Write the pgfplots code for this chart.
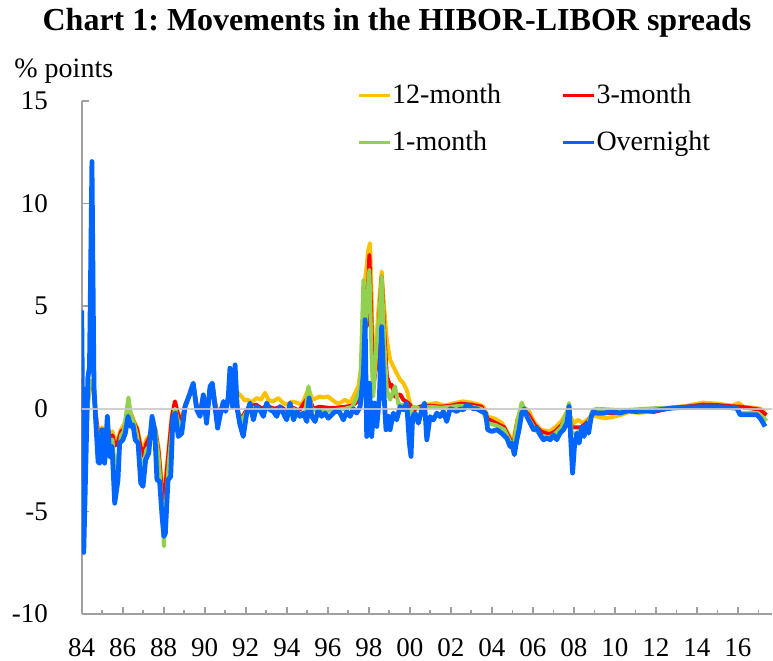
\documentclass[border=0pt]{standalone}
\usepackage{fontspec}
\setmainfont{Liberation Serif}
\usepackage{pgfplots}
\pgfplotsset{compat=1.18}
\frenchspacing
\definecolor{c12}{HTML}{FFC000}
\definecolor{c3}{HTML}{FF0000}
\definecolor{c1}{HTML}{92D050}
\definecolor{con}{HTML}{0066FF}
\definecolor{axgray}{HTML}{A0A0A0}
\definecolor{zgray}{HTML}{C8C8C8}
\begin{document}
\begin{tikzpicture}
\path[use as bounding box] (-40.85bp,-23.5bp) rectangle (345.65bp,307bp);
\begin{axis}[
  scale only axis, width=345.2bp, height=256.5bp,
  at={(0,0)}, anchor=south west,
  xmin=1984, xmax=2017.67, ymin=-10, ymax=15,
  axis lines*=left,
  axis line style={axgray, line width=1bp, -},
  xtick={1984,1986,1988,1990,1992,1994,1996,1998,2000,2002,2004,2006,2008,2010,2012,2014,2016},
  xticklabels={84,86,88,90,92,94,96,98,00,02,04,06,08,10,12,14,16},
  minor xtick={1985,1987,1989,1991,1993,1995,1997,1999,2001,2003,2005,2007,2009,2011,2013,2015,2017},
  ytick={-10,-5,0,5,10,15},
  yticklabels={-10,-5,0,5,10,15},
  tick align=inside,
  major tick length=3.5bp, minor tick length=2bp,
  tick style={axgray, line width=0.8bp},
  xticklabel style={anchor=north, inner sep=0pt, yshift=-12bp, font=\fontsize{13.5bp}{16bp}\selectfont},
  yticklabel style={anchor=east, inner sep=0pt, xshift=-16.7bp, font=\fontsize{13.5bp}{16bp}\selectfont},
  legend columns=2,
  legend style={at={(0.3988,1.0342)}, anchor=north west, draw=none, fill=none, inner sep=0pt,
    font=\fontsize{14bp}{16bp}\selectfont,
    /tikz/every even column/.append style={column sep=30bp}, row sep=11.5bp,
    nodes={inner sep=0.3bp, anchor=west}},
  legend image code/.code={\draw[#1, line width=1.6bp] (0bp,0bp) -- (15.5bp,0bp);},
  every axis plot/.append style={line join=round, no markers},
]
\addplot[c12, line width=2bp] coordinates {
(1984.00,1.8) (1984.08,-3.0) (1984.25,0.3) (1984.42,1.3) (1984.58,0.8) (1984.72,-0.5) (1984.88,-1.6)
(1985.00,-0.9) (1985.12,-1.1) (1985.25,-0.9) (1985.40,-1.3) (1985.50,-1.1) (1985.62,-1.6) (1985.78,-1.4)
(1985.92,-1.0) (1986.05,-0.8) (1986.25,-0.3) (1986.40,-0.2) (1986.55,-0.6) (1986.70,-0.9) (1986.85,-1.6)
(1987.00,-2.0) (1987.15,-1.5) (1987.30,-1.3) (1987.45,-0.7) (1987.60,-1.0) (1987.75,-1.9) (1987.90,-3.6)
(1988.00,-4.3) (1988.10,-3.4) (1988.25,-1.8) (1988.40,-0.3) (1988.55,0.35) (1988.70,-0.2) (1988.88,-0.5)
(1989.04,0.2) (1989.28,0.7) (1989.44,1.2) (1989.61,0.2) (1989.77,-0.1) (1989.93,0.6) (1990.09,-0.1)
(1990.26,1.0) (1990.37,1.2) (1990.50,0.4) (1990.63,-0.2) (1990.74,-0.1) (1990.91,0.3) (1991.02,0.1)
(1991.15,0.5) (1991.30,0.7) (1991.48,0.8) (1991.64,0.76) (1991.80,0.6) (1991.95,0.4) (1992.10,0.45)
(1992.25,0.3) (1992.53,0.52) (1992.75,0.45) (1992.94,0.78) (1993.10,0.45) (1993.30,0.35) (1993.59,0.52)
(1993.80,0.3) (1994.00,0.2) (1994.25,0.35) (1994.50,0.3) (1994.75,0.2) (1995.06,1.0) (1995.25,0.45)
(1995.40,0.5) (1995.60,0.6) (1995.80,0.55) (1996.00,0.6) (1996.20,0.45) (1996.40,0.3) (1996.60,0.28)
(1996.84,0.44) (1997.09,0.28) (1997.33,0.76) (1997.49,1.09) (1997.66,2.23) (1997.82,6.28) (1997.98,7.74)
(1998.06,8.07) (1998.14,5.47) (1998.22,1.58) (1998.36,3.04) (1998.47,4.83) (1998.63,6.69) (1998.71,5.47)
(1998.88,3.36) (1999.04,2.39) (1999.20,2.06) (1999.36,1.74) (1999.53,1.41) (1999.69,1.25) (1999.85,0.93)
(2000.01,0.28) (2000.18,-0.05) (2000.50,0.11) (2000.80,0.2) (2001.30,0.28) (2001.70,0.15) (2002.20,0.28)
(2002.60,0.36) (2003.00,0.3) (2003.40,0.2) (2003.60,0.1) (2003.80,-0.38) (2004.20,-0.5) (2004.50,-0.7)
(2004.89,-1.35) (2005.05,-1.5) (2005.25,-0.5) (2005.50,0.11) (2005.80,-0.1) (2006.10,-0.7) (2006.40,-1.02)
(2006.80,-1.1) (2007.10,-0.9) (2007.40,-0.6) (2007.70,-0.1) (2008.00,-0.7) (2008.20,-0.54) (2008.45,-0.7)
(2008.70,-0.5) (2008.90,-0.3) (2009.10,-0.37) (2009.50,-0.46) (2009.90,-0.4) (2010.30,-0.3) (2010.70,-0.15)
(2011.20,-0.2) (2011.80,-0.12) (2012.70,0.05) (2013.50,0.15) (2014.30,0.30) (2015.00,0.25) (2015.70,0.15)
(2016.03,0.28) (2016.30,0.1) (2016.80,0.05) (2017.10,0.0) (2017.33,-0.2)
};
\addlegendentry{12-month}
\addplot[c3, line width=2bp] coordinates {
(1984.00,1.5) (1984.08,-3.5) (1984.25,0.3) (1984.42,1.3) (1984.58,0.9) (1984.72,-0.6) (1984.88,-1.8)
(1985.00,-1.2) (1985.12,-1.3) (1985.25,-0.9) (1985.40,-1.5) (1985.50,-1.3) (1985.62,-1.8) (1985.78,-1.6)
(1985.92,-1.1) (1986.05,-1.0) (1986.25,-0.3) (1986.40,-0.3) (1986.55,-0.7) (1986.70,-1.0) (1986.85,-1.8)
(1987.00,-2.3) (1987.15,-1.7) (1987.30,-1.4) (1987.45,-0.7) (1987.60,-1.1) (1987.75,-2.1) (1987.90,-3.9)
(1988.00,-4.5) (1988.10,-3.6) (1988.25,-2.0) (1988.40,-0.4) (1988.55,0.36) (1988.70,-0.3) (1988.88,-0.6)
(1989.04,0.1) (1989.28,0.7) (1989.44,1.2) (1989.61,0.1) (1989.77,-0.2) (1989.93,0.6) (1990.09,-0.2)
(1990.26,1.0) (1990.37,1.2) (1990.50,0.3) (1990.63,-0.4) (1990.74,-0.2) (1990.91,0.3) (1991.02,0.0)
(1991.15,0.5) (1991.30,0.8) (1991.48,0.6) (1991.64,-0.2) (1991.80,-0.5) (1991.95,-0.2) (1992.20,0.1)
(1992.50,0.2) (1992.80,0.0) (1993.00,0.15) (1993.40,0.0) (1993.70,0.1) (1994.00,-0.1) (1994.30,0.05)
(1994.60,-0.1) (1995.06,0.6) (1995.30,0.0) (1995.60,0.1) (1996.00,0.05) (1996.40,0.05) (1996.84,0.1)
(1997.20,0.15) (1997.49,0.4) (1997.66,1.0) (1997.75,5.96) (1997.90,4.0) (1998.03,7.5) (1998.14,3.85)
(1998.22,1.09) (1998.39,2.23) (1998.63,6.45) (1998.75,3.85) (1998.88,1.58) (1999.04,1.09) (1999.12,1.17)
(1999.28,0.6) (1999.53,0.7) (1999.69,0.44) (1999.93,0.28) (2000.18,-0.05) (2000.50,0.1) (2001.00,0.15)
(2001.50,0.1) (2002.00,0.15) (2002.50,0.25) (2003.00,0.2) (2003.50,0.1) (2003.80,-0.5) (2004.20,-0.7)
(2004.60,-0.9) (2004.89,-1.5) (2005.05,-1.8) (2005.25,-0.6) (2005.50,0.0) (2005.80,-0.3) (2006.10,-0.8)
(2006.40,-1.1) (2006.80,-1.25) (2007.10,-1.1) (2007.40,-0.8) (2007.70,-0.2) (2007.90,-0.9) (2008.10,-0.9)
(2008.40,-0.9) (2008.70,-0.6) (2008.90,-0.25) (2009.10,-0.2) (2010.00,-0.2) (2010.70,-0.1) (2011.50,-0.1)
(2011.90,-0.15) (2012.70,0.03) (2013.50,0.1) (2014.30,0.2) (2015.00,0.18) (2015.70,0.12) (2016.10,0.1)
(2016.80,0.0) (2017.10,-0.05) (2017.25,-0.2) (2017.40,-0.3)
};
\addlegendentry{3-month}
\addplot[c1, line width=2bp] coordinates {
(1984.00,1.2) (1984.08,-4.5) (1984.25,-0.5) (1984.42,1.4) (1984.60,1.25) (1984.72,-0.8) (1984.88,-2.0)
(1985.00,-1.1) (1985.12,-1.8) (1985.25,-0.8) (1985.40,-1.8) (1985.50,-1.5) (1985.62,-3.0) (1985.78,-2.3)
(1985.92,-1.3) (1986.05,-1.1) (1986.28,0.55) (1986.40,-0.3) (1986.55,-0.7) (1986.70,-1.3) (1986.85,-2.4)
(1987.00,-2.9) (1987.15,-2.0) (1987.30,-1.8) (1987.45,-0.5) (1987.60,-1.1) (1987.75,-2.4) (1987.90,-4.5)
(1988.01,-6.7) (1988.10,-4.8) (1988.25,-2.6) (1988.40,-1.0) (1988.55,0.0) (1988.70,-0.6) (1988.88,-0.9)
(1989.04,0.1) (1989.28,0.7) (1989.44,1.2) (1989.61,0.0) (1989.77,-0.3) (1989.93,0.6) (1990.09,-0.4)
(1990.26,1.0) (1990.37,1.2) (1990.50,0.2) (1990.63,-0.6) (1990.74,-0.3) (1990.91,0.3) (1991.02,-0.1)
(1991.15,0.5) (1991.30,1.0) (1991.48,1.2) (1991.64,-0.2) (1991.80,-0.7) (1991.95,-0.3) (1992.20,0.1)
(1992.50,0.0) (1992.80,-0.2) (1993.00,0.1) (1993.40,-0.1) (1993.70,0.0) (1994.00,-0.3) (1994.30,0.0)
(1994.60,-0.2) (1994.90,-0.2) (1995.06,1.09) (1995.20,0.0) (1995.50,-0.1) (1996.00,-0.1) (1996.40,-0.05)
(1996.84,0.0) (1997.20,0.1) (1997.58,0.93) (1997.74,6.28) (1997.82,3.85) (1998.03,6.77) (1998.14,2.55)
(1998.22,0.6) (1998.39,3.2) (1998.52,4.5) (1998.63,6.45) (1998.75,3.36) (1998.88,0.93) (1999.04,0.44)
(1999.28,1.09) (1999.45,0.2) (1999.61,0.2) (1999.77,0.15) (2000.01,-0.21) (2000.18,0.1) (2000.50,0.0)
(2001.00,0.1) (2001.50,0.05) (2002.00,0.1) (2002.50,0.15) (2003.00,0.1) (2003.50,0.0) (2003.80,-0.7)
(2004.20,-0.8) (2004.60,-1.0) (2004.89,-1.6) (2005.05,-1.9) (2005.25,-0.6) (2005.46,0.3) (2005.70,-0.3)
(2006.10,-1.0) (2006.40,-1.3) (2006.80,-1.4) (2007.10,-1.2) (2007.40,-0.9) (2007.70,0.0) (2007.77,0.28)
(2007.90,-1.2) (2008.10,-1.2) (2008.40,-1.0) (2008.70,-0.7) (2008.90,-0.1) (2009.10,0.0) (2010.00,-0.05)
(2010.70,-0.05) (2011.50,0.0) (2012.30,0.05) (2013.00,0.05) (2014.00,0.05) (2015.00,0.05) (2015.95,0.05)
(2016.11,-0.2) (2016.90,-0.2) (2017.10,-0.3) (2017.40,-0.6)
};
\addlegendentry{1-month}
\addplot[con, line width=2.4bp] coordinates {
(1984.00,4.8) (1984.10,-7.0) (1984.30,1.5) (1984.38,2.06) (1984.50,12.05) (1984.60,1.0) (1984.68,-0.5)
(1984.80,-2.6) (1984.88,-2.65) (1984.99,-1.02) (1985.12,-2.65) (1985.25,-0.37) (1985.37,-2.32) (1985.48,-1.84)
(1985.61,-4.6) (1985.77,-3.46) (1985.85,-1.67) (1986.01,-1.51) (1986.13,-1.18) (1986.26,-0.37) (1986.39,-0.86)
(1986.50,-0.78) (1986.61,-1.51) (1986.75,-1.67) (1986.88,-3.62) (1986.99,-3.78) (1987.12,-2.48) (1987.27,-2.16)
(1987.43,-0.37) (1987.56,-1.02) (1987.67,-3.46) (1987.80,-3.54) (1987.92,-5.24) (1988.01,-6.22) (1988.08,-6.06)
(1988.21,-3.46) (1988.34,-3.30) (1988.45,-0.37) (1988.57,-0.21) (1988.71,-1.35) (1988.88,-1.19) (1989.04,0.11)
(1989.28,0.76) (1989.44,1.25) (1989.61,-0.05) (1989.77,-0.37) (1989.93,0.68) (1990.09,-0.70) (1990.26,1.09)
(1990.37,1.25) (1990.50,0.11) (1990.63,-0.94) (1990.74,-0.37) (1990.91,0.36) (1991.02,-0.13) (1991.15,0.60)
(1991.23,1.98) (1991.35,0.11) (1991.48,2.14) (1991.59,-0.05) (1991.72,-0.78) (1991.88,-1.35) (1992.05,-0.21)
(1992.21,0.28) (1992.37,-0.54) (1992.53,0.11) (1992.70,-0.05) (1992.86,-0.37) (1993.02,0.28) (1993.19,-0.05)
(1993.35,-0.13) (1993.51,-0.37) (1993.67,0.11) (1993.83,-0.21) (1994.00,-0.54) (1994.16,0.28) (1994.33,-0.54)
(1994.49,-0.13) (1994.65,-0.37) (1994.81,-0.21) (1994.98,-0.62) (1995.09,0.52) (1995.22,-0.37) (1995.38,-0.62)
(1995.54,-0.05) (1995.70,-0.37) (1995.87,-0.21) (1996.03,-0.46) (1996.19,-0.29) (1996.35,-0.13) (1996.52,-0.13)
(1996.60,-0.21) (1996.76,-0.54) (1996.93,-0.13) (1997.09,-0.37) (1997.25,0.0) (1997.41,-0.21) (1997.58,0.11)
(1997.74,1.74) (1997.82,4.34) (1997.90,-1.35) (1998.03,1.25) (1998.14,-1.35) (1998.27,0.28) (1998.39,-0.86)
(1998.52,0.60) (1998.63,4.00) (1998.75,0.6) (1998.84,-1.02) (1998.96,-0.37) (1999.04,-1.02) (1999.20,-0.21)
(1999.36,-0.54) (1999.53,0.11) (1999.69,-0.05) (1999.85,0.28) (1999.98,-1.67) (2000.06,-2.32) (2000.14,-0.37)
(2000.26,-0.21) (2000.42,-0.70) (2000.59,0.0) (2000.72,0.28) (2000.83,-1.51) (2000.99,-0.38) (2001.15,-0.54)
(2001.32,-0.21) (2001.48,-0.38) (2001.64,-0.13) (2001.80,-0.62) (2001.97,0.0) (2002.13,-0.05) (2002.29,-0.13)
(2002.46,0.0) (2002.62,-0.05) (2002.78,0.20) (2002.94,0.10) (2003.10,0.0) (2003.27,0.0) (2003.51,-0.13)
(2003.70,-0.21) (2003.80,-1.02) (2004.00,-1.10) (2004.25,-1.02) (2004.49,-1.20) (2004.73,-1.43) (2004.89,-1.84)
(2004.98,-1.67) (2005.10,-2.24) (2005.22,-1.51) (2005.33,-1.02) (2005.46,-0.21) (2005.59,0.0) (2005.71,-0.38)
(2005.87,-0.70) (2006.04,-1.02) (2006.20,-0.94) (2006.36,-1.27) (2006.52,-1.51) (2006.68,-1.43) (2006.85,-1.51)
(2007.01,-1.27) (2007.17,-1.51) (2007.33,-1.19) (2007.50,-1.02) (2007.66,-0.70) (2007.77,0.11) (2007.85,-1.5)
(2007.94,-3.13) (2008.03,-1.84) (2008.15,-1.19) (2008.26,-1.67) (2008.39,-0.86) (2008.50,-1.35) (2008.63,-0.70)
(2008.72,-1.19) (2008.85,-0.38) (2008.96,-0.13) (2009.12,-0.21) (2009.50,-0.21) (2009.77,-0.13) (2010.26,-0.21)
(2010.60,-0.10) (2011.00,-0.13) (2011.80,-0.10) (2012.70,0.03) (2013.50,0.08) (2014.30,0.10) (2015.10,0.10)
(2015.95,0.03) (2016.11,-0.29) (2016.92,-0.29) (2017.09,-0.46) (2017.33,-0.86)
};
\addlegendentry{Overnight}
\addplot[zgray, line width=1bp, opacity=0.85, forget plot] coordinates {(1984,0) (2017.67,0)};
\end{axis}
\node[anchor=base, font=\bfseries\fontsize{16bp}{19bp}\selectfont] at (157.65bp,291.5bp) {Chart 1: Movements in the HIBOR-LIBOR spreads};
\node[anchor=base west, inner sep=0pt, font=\fontsize{14bp}{16bp}\selectfont] at (-33.85bp,268bp) {\% points};
\end{tikzpicture}
\end{document}
